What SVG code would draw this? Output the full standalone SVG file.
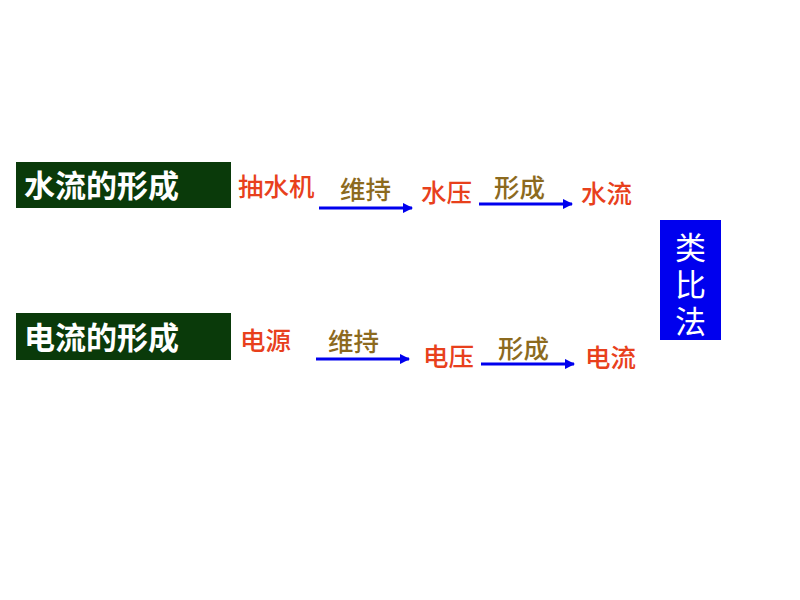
<svg xmlns="http://www.w3.org/2000/svg" width="800" height="600" viewBox="0 0 800 600">
<defs>
<style>
text{font-family:"Liberation Sans","Noto Sans CJK SC",sans-serif}
.title{fill:#fff;font-size:31px;font-weight:bold}
.red{fill:#e8401c;font-size:25.5px;font-weight:500}
.brown{fill:#8c6a1e;font-size:25.5px;font-weight:500}
.side{fill:#fff;font-size:31px}
.conn{stroke:#0000ee;stroke-width:3;fill:none;marker-end:url(#ah)}
</style>
<marker id="ah" viewBox="0 0 10 10" refX="9" refY="5" markerWidth="3.5" markerHeight="3.5" orient="auto" markerUnits="strokeWidth">
<path d="M0,0 L10,5 L0,10 z" fill="#0000ee"/>
</marker>
</defs>
<rect width="800" height="600" fill="#fff"/>
<g id="water-title"><rect x="16" y="162" width="215" height="46" fill="#0a3a0a"/><text class="title" x="24" y="197">水流的形成</text></g>
<g id="elec-title"><rect x="16" y="313" width="215" height="47" fill="#0a3a0a"/><text class="title" x="24" y="349">电流的形成</text></g>
<g id="pump"><text class="red" x="238" y="196">抽水机</text></g>
<g id="wp"><text class="red" x="421" y="202">水压</text></g>
<g id="wf"><text class="red" x="581" y="203">水流</text></g>
<g id="src"><text class="red" x="240" y="350">电源</text></g>
<g id="ev"><text class="red" x="423" y="366">电压</text></g>
<g id="ec"><text class="red" x="585" y="367">电流</text></g>
<g id="analogy"><rect x="660" y="220" width="61" height="120" fill="#0000ee"/>
<text class="side" x="690.5" y="259" text-anchor="middle">类</text>
<text class="side" x="690.5" y="296" text-anchor="middle">比</text>
<text class="side" x="690.5" y="333" text-anchor="middle">法</text></g>
<g id="connectors">
<path class="conn" d="M319,208 H412"/>
<path class="conn" d="M479,204 H572"/>
<path class="conn" d="M316,359 H409"/>
<path class="conn" d="M481,364 H574"/>
<text class="brown" x="340" y="199">维持</text>
<text class="brown" x="494" y="197">形成</text>
<text class="brown" x="328" y="351">维持</text>
<text class="brown" x="498" y="358">形成</text>
</g>
</svg>
